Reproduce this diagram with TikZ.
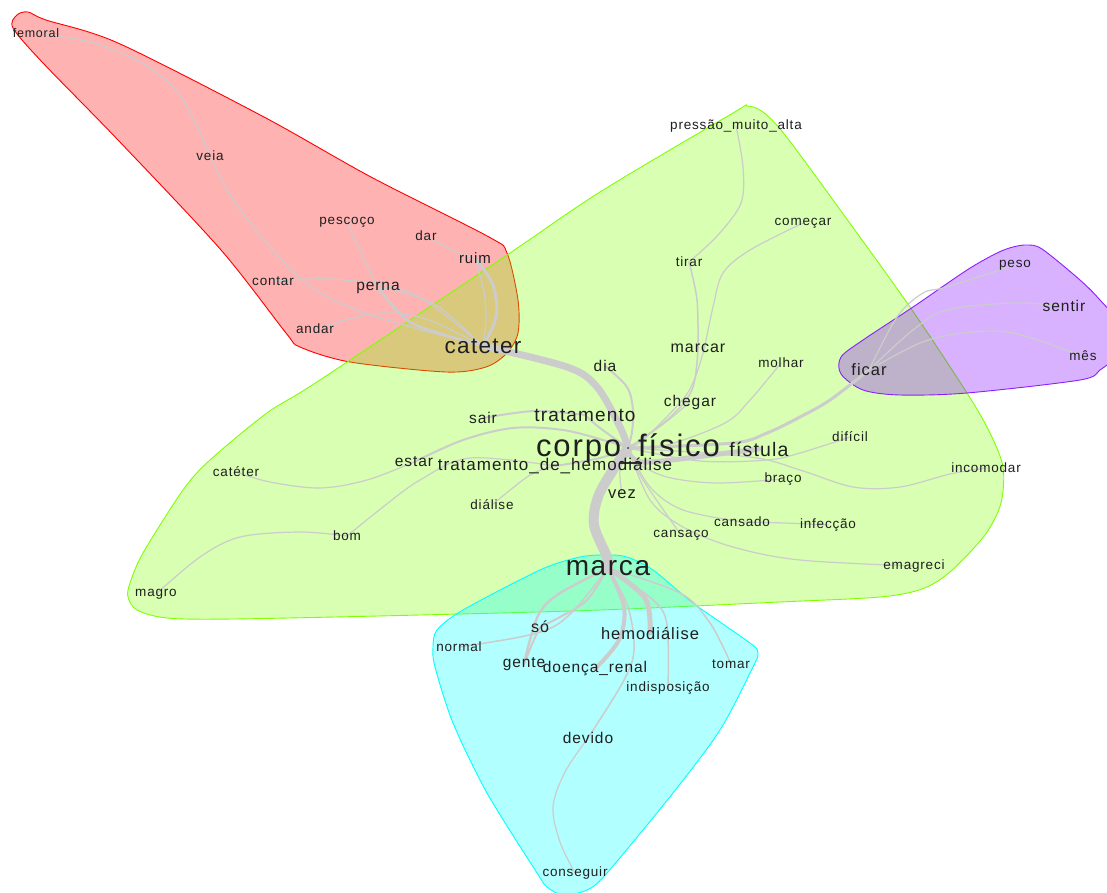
\documentclass[tikz,border=0pt]{standalone}
\usepackage{fontspec}
\setmainfont{Liberation Sans}[LetterSpace=6]
\definecolor{haloRed}{RGB}{255,0,0}
\definecolor{haloGreen}{RGB}{128,255,0}
\definecolor{haloCyan}{RGB}{0,255,255}
\definecolor{haloPurple}{RGB}{128,0,255}
\definecolor{haloPurpleLine}{RGB}{140,30,255}
\begin{document}
\begin{tikzpicture}[x=1pt,y=-1pt,
  lab/.style={font=\fontsize{#1}{#1}\selectfont, text=black!88, inner sep=0pt, anchor=center},
  lab/.default=13.5,
  edge/.style={draw=gray!40, line width=#1, line cap=round, line join=round},
  edge/.default=1.2,
  halo/.style={line width=0.9pt, fill opacity=0.3, draw opacity=1},
  sm/.style={smooth, tension=0.55}]
\useasboundingbox (0,0) rectangle (1107,893);
\fill[white] (0,0) rectangle (1107,893);
\clip (0,0) rectangle (1107,893);

% word positions
\coordinate (C) at (628,448);
\coordinate (femoral) at (36,33);
\coordinate (veia) at (210,156);
\coordinate (pescoco) at (347,222);
\coordinate (dar) at (426,236);
\coordinate (ruim) at (475,258);
\coordinate (contar) at (273,281);
\coordinate (perna) at (378,288);
\coordinate (andar) at (315,329);
\coordinate (cateter) at (483,346);
\coordinate (pressao) at (736,126);
\coordinate (comecar) at (803,223);
\coordinate (tirar) at (689,262);
\coordinate (marcar) at (698,348);
\coordinate (dia) at (605,366);
\coordinate (molhar) at (781,363);
\coordinate (ficar) at (869,370);
\coordinate (peso) at (1015,265);
\coordinate (sentir) at (1064,306);
\coordinate (mes) at (1083,356);
\coordinate (chegar) at (690,402);
\coordinate (tratamento) at (585,415);
\coordinate (sair) at (483,418);
\coordinate (fistula) at (759,449);
\coordinate (tdh) at (555,466);
\coordinate (estar) at (414,462);
\coordinate (catheter) at (236,472);
\coordinate (dificil) at (850,437);
\coordinate (incomodar) at (986,468);
\coordinate (braco) at (783,479);
\coordinate (vez) at (622,494);
\coordinate (dialise) at (492,505);
\coordinate (cansado) at (742,522);
\coordinate (infeccao) at (828,525);
\coordinate (cansaco) at (681,535);
\coordinate (bom) at (347,536);
\coordinate (emagreci) at (914,566);
\coordinate (marca) at (608,568);
\coordinate (magro) at (156,594);
\coordinate (so) at (540,627);
\coordinate (hemodialise) at (650,633);
\coordinate (normal) at (459,647);
\coordinate (gente) at (524,664);
\coordinate (doenca) at (595,669);
\coordinate (tomar) at (731,664);
\coordinate (indisposicao) at (668,688);
\coordinate (devido) at (588,738);
\coordinate (conseguir) at (575,873);

% cluster halos
\filldraw[halo, fill=haloRed, draw=haloRed] plot[smooth cycle, tension=0.5] coordinates {
  (17,15) (28,12) (46,20) (118,43) (264,117) (371,177) (489,237) (507,253)
  (518,300) (518,333) (507,353) (486,367) (446,372) (350,362) (300,347)
  (286,333) (221,250) (118,140) (43,63) (13,28)};
\filldraw[halo, fill=haloGreen, draw=haloGreen]
  plot[smooth cycle, tension=0.5] coordinates {
  (747,106) (763,112) (785,135) (833,200) (910,307) (967,393) (990,433)
  (1003,467) (1001,503) (985,535) (950,572) (922,589) (880,597) (780,602)
  (600,610) (420,615) (233,619) (167,618) (137,610) (128,597) (130,583)
  (143,553) (183,490) (210,460) (267,413) (320,380) (507,255) (600,192) (733,113)};
\filldraw[halo, fill=haloCyan, draw=haloCyan] plot[smooth cycle, tension=0.5] coordinates {
  (607,555) (627,557) (653,570) (693,603) (750,643) (758,653) (753,667)
  (720,730) (673,793) (607,873) (587,890) (563,895) (547,887) (537,873)
  (487,793) (453,723) (435,667) (433,647) (437,630) (463,610) (540,570) (580,557)};
\filldraw[halo, fill=haloPurple, draw=haloPurpleLine]
  plot[smooth cycle, tension=0.5] coordinates {
  (1013,247) (1027,245) (1042,249) (1080,280) (1100,300) (1115,320)
  (1115,355) (1100,370) (1080,380) (967,393) (900,395) (863,390) (841,374)
  (841,357) (863,340) (913,307) (967,270) (997,253)};

% thin branches
\draw[edge] plot[sm] coordinates {(femoral) (90,42) (140,62) (180,95) (veia)};
\draw[edge] plot[sm] coordinates {(veia) (232,198) (270,247) (311,287) (357,310) (411,327) (cateter)};
\draw[edge] plot[sm] coordinates {(pescoco) (362,255) (perna)};
\draw[edge=2.5] plot[sm] coordinates {(perna) (407,320) (439,333) (cateter)};
\draw[edge] plot[sm] coordinates {(perna) (402,292) (439,307) (cateter)};
\draw[edge] plot[sm] coordinates {(contar) (330,279) (393,287) (429,303) (cateter)};
\draw[edge] plot[sm] coordinates {(andar) (357,317) (389,313) (429,320) (cateter)};
\draw[edge] plot[sm] coordinates {(dar) (452,250) (ruim)};
\draw[edge] plot[sm] coordinates {(ruim) (484,292) (486,320) (cateter)};
\draw[edge=3] plot[sm] coordinates {(ruim) (493,285) (496,317) (cateter)};

\draw[edge] plot[sm] coordinates {(pressao) (743,167) (741,203) (718,235) (tirar)};
\draw[edge=1.5] plot[sm] coordinates {(tirar) (697,300) (marcar)};
\draw[edge=1.5] plot[sm] coordinates {(marcar) (692,390) (667,420) (C)};
\draw[edge] plot[sm] coordinates {(chegar) (662,425) (C)};
\draw[edge] plot[sm] coordinates {(comecar) (750,250) (723,273) (713,307) (703,353) (692,385) (678,405) (643,440) (C)};
\draw[edge] plot[sm] coordinates {(molhar) (750,400) (725,423) (667,445) (C)};
\draw[edge=2] plot[sm] coordinates {(dia) (627,387) (633,410) (632,432) (C)};
\draw[edge=3] plot[sm] coordinates {(ficar) (830,400) (800,417) (767,433) (733,443) (C)};
\draw[edge] plot[sm] coordinates {(dificil) (800,453) (767,460) (700,461) (C)};
\draw[edge] plot[sm] coordinates {(incomodar) (950,474) (900,487) (853,487) (800,470) (750,457) (C)};
\draw[edge] plot[sm] coordinates {(braco) (717,483) (667,477) (636,462) (C)};
\draw[edge] plot[sm] coordinates {(infeccao) (785,523) (cansado)};
\draw[edge] plot[sm] coordinates {(cansado) (683,510) (650,487) (C)};
\draw[edge] plot[sm] coordinates {(emagreci) (800,560) (733,547) (683,527) (650,500) (C)};
\draw[edge] plot[sm] coordinates {(cansaco) (660,505) (640,475) (C)};
\draw[edge] plot[sm] coordinates {(vez) (620,470) (C)};
\draw[edge=2] plot[sm] coordinates {(sair) (535,411) (tratamento)};
\draw[edge=2] plot[sm] coordinates {(tratamento) (600,428) (C)};
\draw[edge=2] plot[sm] coordinates {(estar) (463,440) (513,428) (563,430) (610,442) (C)};
\draw[edge] plot[sm] coordinates {(catheter) (270,482) (320,488) (367,480) (estar)};
\draw[edge] plot[sm] coordinates {(magro) (200,557) (240,537) (300,532) (bom)};
\draw[edge] plot[sm] coordinates {(bom) (383,507) (420,480) (470,458) (tdh)};
\draw[edge] plot[sm] coordinates {(dialise) (530,475) (tdh)};
\draw[edge=2] plot[sm] coordinates {(tdh) (600,458) (C)};

% cluster around "marca"
\draw[edge=1.5] plot[sm] coordinates {(marca) (577,607) (553,627) (520,637) (normal)};
\draw[edge=2] plot[sm] coordinates {(marca) (587,600) (560,617) (so)};
\draw[edge=2] plot[sm] coordinates {(so) (533,642) (gente)};
\draw[edge=2.5] plot[sm] coordinates {(marca) (560,593) (540,612) (530,640) (gente)};
\draw[edge=1.5] plot[sm] coordinates {(marca) (680,593) (710,623) (tomar)};
\draw[edge=1.5] plot[sm] coordinates {(marca) (653,600) (667,625) (indisposicao)};
\draw[edge=1.5] plot[sm] coordinates {(marca) (628,607) (634,650) (623,682) (devido)};
\draw[edge] plot[sm] coordinates {(devido) (565,772) (553,807) (560,842) (conseguir)};
\draw[edge=4] plot[sm] coordinates {(marca) (624,607) (619,640) (doenca)};
\draw[edge=5] plot[sm] coordinates {(marca) (645,598) (hemodialise)};

% cluster around "ficar"
\draw[edge] plot[sm] coordinates {(ficar) (897,317) (923,293) (947,287) (peso)};
\draw[edge] plot[sm] coordinates {(ficar) (913,330) (947,310) (1013,303) (sentir)};
\draw[edge] plot[sm] coordinates {(ficar) (920,343) (963,333) (1013,333) (mes)};

% trunk branches
\draw[edge=5] plot[sm] coordinates {(C) (643,462) (727,453) (fistula)};
\draw[edge=7] plot[sm] coordinates {(C) (620,427) (597,387) (567,367) (cateter)};
\draw[edge=10] plot[sm] coordinates {(C) (613,470) (598,497) (594,525) (607,557) (marca)};
\coordinate (tick-a) at (620,463);
\coordinate (tick-b) at (642,463);
\draw[black!80, line width=1.6pt] (tick-a) -- (tick-b);
\fill[black!80] (C) circle (1);

% words
\node[lab=12.5] (n-femoral) at (femoral) {femoral};
\node[lab] (n-veia) at (veia) {veia};
\node[lab] (n-pescoco) at (pescoco) {pescoço};
\node[lab] (n-dar) at (dar) {dar};
\node[lab=15] (n-ruim) at (ruim) {ruim};
\node[lab] (n-contar) at (contar) {contar};
\node[lab=15.5] (n-perna) at (perna) {perna};
\node[lab] (n-andar) at (andar) {andar};
\node[lab=22.5] (n-cateter) at (cateter) {cateter};
\node[lab] (n-pressao) at (pressao) {pressão\_muito\_alta};
\node[lab] (n-comecar) at (comecar) {começar};
\node[lab] (n-tirar) at (tirar) {tirar};
\node[lab=16] (n-marcar) at (marcar) {marcar};
\node[lab=15.5] (n-dia) at (dia) {dia};
\node[lab] (n-molhar) at (molhar) {molhar};
\node[lab=16.5] (n-ficar) at (ficar) {ficar};
\node[lab] (n-peso) at (peso) {peso};
\node[lab=15.5] (n-sentir) at (sentir) {sentir};
\node[lab] (n-mes) at (mes) {mês};
\node[lab=15.5] (n-chegar) at (chegar) {chegar};
\node[lab=19] (n-tratamento) at (tratamento) {tratamento};
\node[lab=15.5] (n-sair) at (sair) {sair};
\node[lab=31] (n-C) at (C) {corpo\hspace{0.55em}físico};
\node[lab=19.5] (n-fistula) at (fistula) {fístula};
\node[lab=17] (n-tdh) at (tdh) {tratamento\_de\_hemodiálise};
\node[lab=15.5] (n-estar) at (estar) {estar};
\node[lab] (n-catheter) at (catheter) {catéter};
\node[lab] (n-dificil) at (dificil) {difícil};
\node[lab] (n-incomodar) at (incomodar) {incomodar};
\node[lab] (n-braco) at (braco) {braço};
\node[lab=16.5] (n-vez) at (vez) {vez};
\node[lab] (n-dialise) at (dialise) {diálise};
\node[lab] (n-cansado) at (cansado) {cansado};
\node[lab] (n-infeccao) at (infeccao) {infecção};
\node[lab] (n-cansaco) at (cansaco) {cansaço};
\node[lab] (n-bom) at (bom) {bom};
\node[lab] (n-emagreci) at (emagreci) {emagreci};
\node[lab=28] (n-marca) at (marca) {marca};
\node[lab] (n-magro) at (magro) {magro};
\node[lab=16] (n-so) at (so) {só};
\node[lab=16.5] (n-hemodialise) at (hemodialise) {hemodiálise};
\node[lab] (n-normal) at (normal) {normal};
\node[lab=15.5] (n-gente) at (gente) {gente};
\node[lab=15.5] (n-doenca) at (doenca) {doença\_renal};
\node[lab] (n-tomar) at (tomar) {tomar};
\node[lab] (n-indisposicao) at (indisposicao) {indisposição};
\node[lab=15.5] (n-devido) at (devido) {devido};
\node[lab] (n-conseguir) at (conseguir) {conseguir};
\end{tikzpicture}
\end{document}
